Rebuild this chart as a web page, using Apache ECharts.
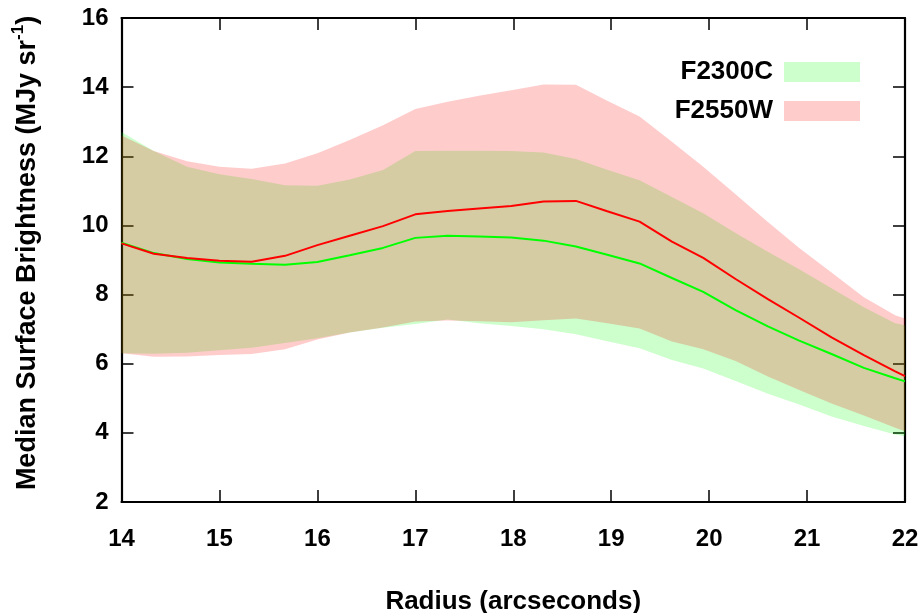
<!DOCTYPE html>
<html>
<head>
<meta charset="utf-8">
<script src="https://cdn.jsdelivr.net/npm/echarts@6/dist/echarts.min.js"></script>
<style>
  html, body { margin: 0; padding: 0; background: #fff; }
  #chart { width: 923px; height: 613px; }
</style>
</head>
<body>
<div id="chart"></div>
<script>
// Radial profile sample radii (arcseconds)
const radius = [14.00, 14.33, 14.67, 15.00, 15.33, 15.67, 16.00, 16.33, 16.67, 17.00,
                17.33, 17.65, 17.98, 18.31, 18.64, 18.96, 19.29, 19.62, 19.94, 20.27,
                20.60, 20.92, 21.25, 21.58, 21.90, 22.00];

// F2300C: median surface brightness and its spread (MJy/sr)
const f2300cMedian = [9.50, 9.20, 9.03, 8.93, 8.89, 8.86, 8.94, 9.14, 9.35, 9.64,
                      9.70, 9.68, 9.65, 9.56, 9.39, 9.15, 8.90, 8.48, 8.08, 7.55,
                      7.08, 6.67, 6.28, 5.88, 5.58, 5.49];
const f2300cLow    = [6.30, 6.29, 6.32, 6.39, 6.46, 6.60, 6.74, 6.90, 7.04, 7.15,
                      7.28, 7.17, 7.09, 7.00, 6.85, 6.65, 6.45, 6.11, 5.86, 5.50,
                      5.13, 4.82, 4.47, 4.20, 3.95, 3.90];
const f2300cHigh   = [12.70, 12.15, 11.70, 11.48, 11.34, 11.16, 11.15, 11.33, 11.60, 12.15,
                      12.16, 12.16, 12.15, 12.11, 11.92, 11.61, 11.31, 10.82, 10.35, 9.78,
                      9.24, 8.73, 8.18, 7.63, 7.17, 7.11];

// F2550W: median surface brightness and its spread (MJy/sr)
const f2550wMedian = [9.48, 9.18, 9.06, 8.98, 8.95, 9.12, 9.43, 9.70, 9.98, 10.32,
                      10.42, 10.49, 10.56, 10.69, 10.71, 10.41, 10.11, 9.53, 9.06, 8.45,
                      7.87, 7.33, 6.76, 6.25, 5.78, 5.64];
const f2550wLow    = [6.30, 6.20, 6.21, 6.25, 6.28, 6.42, 6.70, 6.90, 7.05, 7.22,
                      7.25, 7.23, 7.20, 7.26, 7.31, 7.17, 7.02, 6.64, 6.42, 6.08,
                      5.63, 5.24, 4.85, 4.50, 4.15, 4.05];
const f2550wHigh   = [12.60, 12.15, 11.86, 11.70, 11.64, 11.79, 12.09, 12.47, 12.90, 13.37,
                      13.58, 13.75, 13.91, 14.08, 14.07, 13.61, 13.15, 12.42, 11.70, 10.90,
                      10.10, 9.35, 8.64, 7.92, 7.40, 7.31];

const seriesNames = ['F2300C', 'F2550W'];

const FONT = '"Liberation Sans", Arial, Helvetica, sans-serif';

// Shaded band between low and high, drawn as one polygon in data coordinates
function band(name, low, high, fill) {
  return {
    type: 'custom',
    name: name,
    coordinateSystem: 'cartesian2d',
    xAxisIndex: 0,
    yAxisIndex: 0,
    silent: true,
    itemStyle: { color: fill },
    data: radius.map((x, i) => [x, low[i], high[i]]),
    encode: { x: 0, y: [1, 2] },
    renderItem: function (params, api) {
      if (params.dataIndex !== 0) return null;
      const upper = radius.map((x, i) => api.coord([x, high[i]]));
      const lower = radius.map((x, i) => api.coord([x, low[i]])).reverse();
      return {
        type: 'polygon',
        shape: { points: upper.concat(lower) },
        style: { fill: fill, stroke: null }
      };
    }
  };
}

function medianLine(values, color) {
  return {
    type: 'line',
    xAxisIndex: 0,
    yAxisIndex: 0,
    silent: true,
    showSymbol: false,
    symbol: 'none',
    data: radius.map((x, i) => [x, values[i]]),
    lineStyle: { color: color, width: 2 },
    itemStyle: { color: color }
  };
}

const frameLine = { show: true, lineStyle: { color: '#000', width: 2.2 } };
const inTicks = { show: true, inside: true, length: 12, lineStyle: { color: '#000', width: 1.5 } };

const chart = echarts.init(document.getElementById('chart'), null, { renderer: 'canvas' });
chart.setOption({
  animation: false,
  backgroundColor: '#fff',
  grid: { left: 121.5, right: 18, top: 18, bottom: 111, containLabel: false, outerBoundsMode: 'none' },
  legend: {
    data: seriesNames,
    orient: 'vertical',
    right: 63,
    top: 59,
    padding: 0,
    align: 'right',
    icon: 'rect',
    itemWidth: 76,
    itemHeight: 20,
    itemGap: 13,
    selectedMode: false,
    textStyle: { fontFamily: FONT, fontWeight: 'bold', fontSize: 26, lineHeight: 20, color: '#000', padding: [2, 6, 0, 0] }
  },
  xAxis: [
    {
      type: 'value', position: 'bottom', min: 14, max: 22, interval: 1,
      axisLine: frameLine, axisTick: inTicks, splitLine: { show: false },
      axisLabel: { margin: 25, fontFamily: FONT, fontWeight: 'bold', fontSize: 24, color: '#000' },
      name: 'Radius (arcseconds)', nameLocation: 'middle', nameGap: 87,
      nameTextStyle: { fontFamily: FONT, fontWeight: 'bold', fontSize: 26, color: '#000' }
    },
    {
      type: 'value', position: 'top', min: 14, max: 22, interval: 1,
      axisLine: frameLine, axisTick: inTicks, splitLine: { show: false },
      axisLabel: { show: false }
    }
  ],
  yAxis: [
    {
      type: 'value', position: 'left', min: 2, max: 16, interval: 2,
      axisLine: frameLine, axisTick: inTicks, splitLine: { show: false },
      axisLabel: { margin: 13, fontFamily: FONT, fontWeight: 'bold', fontSize: 24, color: '#000' },
      name: '{t|Median Surface Brightness (MJy sr}{s|-1}{t|)}',
      nameLocation: 'middle', nameGap: 80, nameRotate: 90,
      nameTextStyle: {
        color: '#000',
        padding: [0, 0, 0, 14],
        rich: {
          t: { fontFamily: FONT, fontWeight: 'bold', fontSize: 27, color: '#000', lineHeight: 32, verticalAlign: 'bottom' },
          s: { fontFamily: FONT, fontWeight: 'bold', fontSize: 17, color: '#000', lineHeight: 32, verticalAlign: 'top' }
        }
      }
    },
    {
      type: 'value', position: 'right', min: 2, max: 16, interval: 2,
      axisLine: frameLine, axisTick: inTicks, splitLine: { show: false },
      axisLabel: { show: false }
    }
  ],
  series: [
    band(seriesNames[0], f2300cLow, f2300cHigh, 'rgba(0,255,0,0.2)'),
    band(seriesNames[1], f2550wLow, f2550wHigh, 'rgba(255,0,0,0.2)'),
    medianLine(f2300cMedian, '#00ff00'),
    medianLine(f2550wMedian, '#ff0000')
  ]
});
</script>
</body>
</html>
